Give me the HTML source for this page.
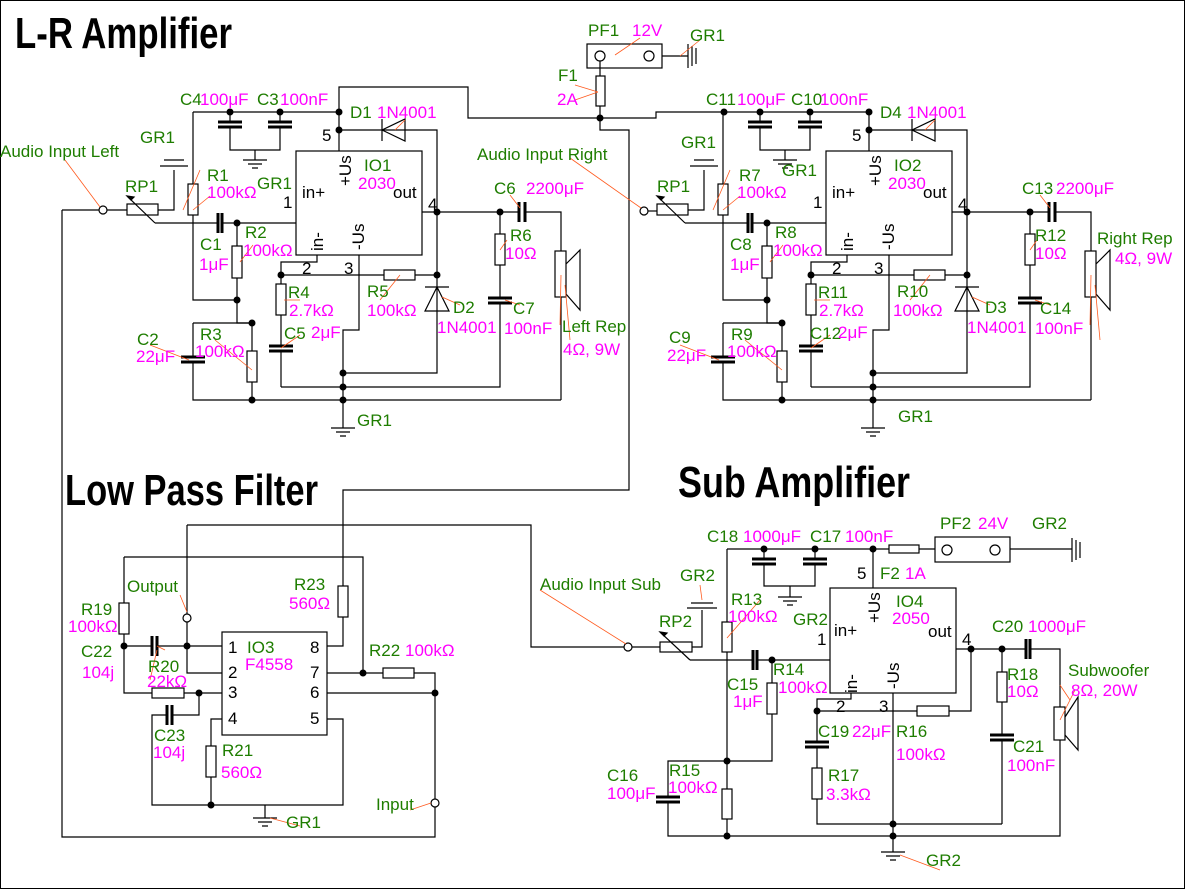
<!DOCTYPE html>
<html><head><meta charset="utf-8"><style>
html,body{margin:0;padding:0;background:#fff}
svg{display:block}
text{font-family:"Liberation Sans",sans-serif;font-size:17px}
.g{fill:#1e7d00}.m{fill:#ff00ff}.k{fill:#000}
.t{font-weight:bold;font-size:44px;fill:#000}
</style></head><body>
<svg width="1185" height="889" viewBox="0 0 1185 889" xmlns="http://www.w3.org/2000/svg">
<rect x="0.5" y="0.5" width="1184" height="888" fill="#fff" stroke="#000"/>
<defs>
<g id="amp" fill="none" stroke="#000" stroke-width="1.2">
 <path d="M158,210H174V170M164,160h20M160,166h28"/>
 <rect x="127" y="204" width="31" height="11"/>
 <path d="M155,223H218M222,223H296"/>
 <path d="M127,196L155,223"/><path d="M127,196l7,1l-3,3z" fill="#000"/>
 <path d="M218,213v20M222,213v20" stroke-width="3"/>
 <path d="M193,112V184M193,215V300H237"/><rect x="188" y="184" width="10" height="31"/>
 <path d="M237,223V246M237,278V323H252"/><rect x="232" y="246" width="10" height="32"/>
 <path d="M193,323H252M193,323V357M193,362V400H561"/>
 <path d="M181,357h24M181,362h24" stroke-width="3"/>
 <path d="M252,323V351M252,382V400"/><rect x="247" y="351" width="10" height="31"/>
 <path d="M193,112H339M230,112V122M230,127V150H280V127M280,112V122M255,150V160"/>
 <path d="M218,122h24M218,127h24M268,122h24M268,127h24" stroke-width="3"/>
 <path d="M243,160h24M248,164h14M252,168h6"/>
 <path d="M339,112V151M339,130H437V212"/>
 <path d="M382,130L405,119V141Z M382,119V141"/>
 <rect x="296" y="151" width="126" height="104"/>
 <path d="M422,212H519M525,212H561V251M561,297V400"/>
 <path d="M519,202v20M525,202v20" stroke-width="3"/>
 <rect x="555" y="251" width="11" height="46"/><path d="M566,264L580,250V310L566,294"/>
 <path d="M500,212V234M500,265V298M500,303V387H281"/><rect x="495" y="234" width="10" height="31"/>
 <path d="M488,298h24M488,303h24" stroke-width="3"/>
 <path d="M281,275V284M281,315V346M281,351V387"/><rect x="276" y="284" width="10" height="31"/>
 <path d="M269,346h24M269,351h24" stroke-width="3"/>
 <path d="M317,255V262H281V275M281,275H384M415,275H437"/><rect x="384" y="270" width="31" height="10"/>
 <path d="M437,212V373H343M437,287L425,311H449Z M425,287H449"/>
 <path d="M359,255V330H343V428M331,428h24M336,432h14M340,436h6"/>
 <g fill="#000" stroke="none">
  <circle cx="339" cy="112" r="3.5"/><circle cx="230" cy="112" r="3.5"/><circle cx="280" cy="112" r="3.5"/>
  <circle cx="339" cy="130" r="3.5"/><circle cx="437" cy="212" r="3.5"/><circle cx="500" cy="212" r="3.5"/>
  <circle cx="237" cy="223" r="3.5"/><circle cx="237" cy="300" r="3.5"/><circle cx="252" cy="323" r="3.5"/>
  <circle cx="281" cy="275" r="3.5"/><circle cx="437" cy="275" r="3.5"/><circle cx="343" cy="373" r="3.5"/>
  <circle cx="343" cy="387" r="3.5"/><circle cx="343" cy="400" r="3.5"/><circle cx="252" cy="400" r="3.5"/>
 </g>
 <g stroke="#ff5a1e" stroke-width="0.8">
  <path d="M200,170L183,210M210,196L193,210M253,245L240,262M300,300L284,300M380,300L400,275M460,305L442,297M150,345L189,360M215,340L252,370M300,335L281,348M507,240L500,250M520,305L505,300M560,325L561,275M570,340L565,285M405,120L395,130M510,195L520,208"/>
 </g>
</g>
</defs>
<use href="#amp"/>
<use href="#amp" transform="translate(530,0)"/>
<g fill="none" stroke="#000" stroke-width="1.2">
 <path d="M62,210H99M107,210H127"/><circle cx="103" cy="210" r="4"/>
 <path d="M648,211H657"/><circle cx="644" cy="211" r="4"/>
 <path d="M339,112V87H468V118H656V112H724"/>
 <rect x="587" y="44" width="75" height="24"/><circle cx="600" cy="56" r="5"/><circle cx="649" cy="56" r="5"/>
 <path d="M662,56H688M600,61V76"/>
 <path d="M688,44v24M692,46v20M696,48v16"/>
 <rect x="596" y="76" width="9" height="30"/>
 <path d="M600,106V130H629V490H343V586"/>
 <path d="M187,525H531V647H624"/><circle cx="628" cy="647" r="4"/>
 <path d="M124,557H363V673"/>
 <path d="M124,557V603M124,634V693H152"/><rect x="119" y="603" width="10" height="31"/>
 <path d="M124,646H152M157,646H222"/>
 <path d="M152,636v20M157,636v20M167,705v20M172,705v20" stroke-width="3"/>
 <path d="M187,525V614M187,622V673H222"/><circle cx="187" cy="618" r="4"/>
 <rect x="152" y="688" width="32" height="10"/><path d="M184,693H222"/>
 <path d="M199,693V715H172M167,715H152V805H343V719H327"/>
 <path d="M222,719H211V746M211,777V805"/><rect x="206" y="746" width="10" height="31"/>
 <path d="M265,805V818M253,818h24M258,822h14M262,826h6"/>
 <rect x="222" y="632" width="105" height="103"/>
 <path d="M327,646H343V617"/><rect x="338" y="586" width="10" height="31"/>
 <path d="M327,673H383M414,673H435V799M435,807V837H62V210M327,693H435"/><rect x="383" y="668" width="31" height="10"/>
 <circle cx="435" cy="803" r="4"/>
 <path d="M632,647H660M692,647H702V610M691,603h22M687,608h30"/><rect x="660" y="642" width="32" height="10"/>
 <path d="M660,632L690,660"/><path d="M660,632l7,1l-3,3z" fill="#000"/>
 <path d="M690,660H753M757,660H830"/>
 <path d="M753,650v20M757,650v20" stroke-width="3"/>
 <path d="M727,549H889M919,549H935"/><rect x="889" y="545" width="30" height="8"/>
 <rect x="935" y="537" width="75" height="25"/><circle cx="947" cy="550" r="5"/><circle cx="995" cy="550" r="5"/>
 <path d="M1010,549H1072M1072,538v24M1076,540v20M1080,542v16"/>
 <path d="M764,549V559M764,564V586H815V564M815,549V559M790,586V597M778,597h24M783,601h14M787,605h6"/>
 <path d="M752,559h24M752,564h24M803,559h24M803,564h24" stroke-width="3"/>
 <path d="M873,549V588"/><rect x="830" y="588" width="126" height="105"/>
 <path d="M727,549V622M727,652V789M727,819V836"/><rect x="722" y="622" width="10" height="30"/>
 <rect x="722" y="789" width="10" height="30"/>
 <path d="M772,660V683M772,714V761H668V797M668,802V836H1060V740"/><rect x="767" y="683" width="10" height="31"/>
 <path d="M656,797h24M656,802h24M805,742h24M805,747h24M990,735h24M990,740h24" stroke-width="3"/>
 <path d="M851,693V699H817V711H917M949,711H971V649"/><rect x="917" y="706" width="32" height="10"/>
 <path d="M817,711V742M817,747V768M817,799V824H1002"/><rect x="812" y="768" width="10" height="31"/>
 <path d="M956,649H1026M1030,649H1060V707"/>
 <path d="M1026,639v20M1030,639v20" stroke-width="3"/>
 <rect x="1054" y="707" width="11" height="33"/><path d="M1065,717L1078,697V750L1065,735"/>
 <path d="M1002,649V672M1002,702V735M1002,740V824"/><rect x="997" y="672" width="10" height="30"/>
 <path d="M893,693V852M881,852h24M886,856h14M890,860h6"/>
</g>
<g fill="#000">
 <circle cx="600" cy="118" r="3.5"/><circle cx="724" cy="112" r="3.5"/>
 <circle cx="124" cy="646" r="3.5"/><circle cx="187" cy="646" r="3.5"/><circle cx="199" cy="693" r="3.5"/>
 <circle cx="363" cy="673" r="3.5"/><circle cx="435" cy="693" r="3.5"/><circle cx="211" cy="805" r="3.5"/>
 <circle cx="764" cy="549" r="3.5"/><circle cx="815" cy="549" r="3.5"/><circle cx="873" cy="549" r="3.5"/>
 <circle cx="772" cy="660" r="3.5"/><circle cx="727" cy="761" r="3.5"/><circle cx="727" cy="836" r="3.5"/>
 <circle cx="893" cy="836" r="3.5"/><circle cx="893" cy="824" r="3.5"/><circle cx="817" cy="711" r="3.5"/>
 <circle cx="971" cy="649" r="3.5"/><circle cx="1002" cy="649" r="3.5"/>
</g>
<g stroke="#ff5a1e" stroke-width="0.8" fill="none">
 <path d="M65,160L100,207M570,158L641,208M575,85L598,92M575,100L598,92M640,38L615,55M700,40L680,56M180,595L187,612M410,810L431,803M300,826L270,818M165,650L157,646M150,680L157,650M540,590L626,644M700,585L702,600M760,600L727,638M940,870L900,855M1060,685L1070,700M1075,690L1060,720"/>
</g>
<text class="t" x="15" y="48" textLength="217" lengthAdjust="spacingAndGlyphs">L-R Amplifier</text>
<text class="t" x="65" y="505" textLength="253" lengthAdjust="spacingAndGlyphs">Low Pass Filter</text>
<text class="t" x="678" y="497" textLength="232" lengthAdjust="spacingAndGlyphs">Sub Amplifier</text>
<text class="g" x="0" y="157">Audio Input Left</text>
<text class="g" x="140" y="143">GR1</text><text class="g" x="125" y="192">RP1</text>
<text class="g" x="207" y="181">R1</text><text class="m" x="207" y="198">100kΩ</text>
<text class="g" x="180" y="105">C4</text><text class="m" x="200" y="105">100μF</text>
<text class="g" x="257" y="105">C3</text><text class="m" x="280" y="105">100nF</text>
<text class="g" x="350" y="118">D1</text><text class="m" x="377" y="118">1N4001</text>
<text class="g" x="257" y="189">GR1</text><text class="k" x="322" y="141">5</text>
<text class="g" x="364" y="171">IO1</text><text class="m" x="358" y="189">2030</text>
<text class="k" x="302" y="198">in+</text><text class="k" x="393" y="198">out</text>
<text class="k" x="283" y="208">1</text><text class="k" x="428" y="210">4</text>
<text class="k" x="0" y="0" transform="translate(351,186) rotate(-90)">+Us</text>
<text class="k" x="0" y="0" transform="translate(323,251) rotate(-90)">in-</text>
<text class="k" x="0" y="0" transform="translate(364,250) rotate(-90)">-Us</text>
<text class="g" x="200" y="250">C1</text><text class="m" x="199" y="270">1μF</text>
<text class="g" x="245" y="238">R2</text><text class="m" x="243" y="256">100kΩ</text>
<text class="k" x="302" y="274">2</text><text class="k" x="344" y="274">3</text>
<text class="g" x="288" y="298">R4</text><text class="m" x="289" y="316">2.7kΩ</text>
<text class="g" x="367" y="297">R5</text><text class="m" x="367" y="316">100kΩ</text>
<text class="g" x="453" y="313">D2</text><text class="m" x="437" y="333">1N4001</text>
<text class="g" x="137" y="345">C2</text><text class="m" x="136" y="362">22μF</text>
<text class="g" x="200" y="340">R3</text><text class="m" x="195" y="357">100kΩ</text>
<text class="g" x="284" y="339">C5</text><text class="m" x="311" y="338">2μF</text>
<text class="g" x="357" y="426">GR1</text>
<text class="g" x="494" y="194">C6</text><text class="m" x="526" y="194">2200μF</text>
<text class="g" x="510" y="241">R6</text><text class="m" x="505" y="259">10Ω</text>
<text class="g" x="513" y="314">C7</text><text class="m" x="504" y="334">100nF</text>
<text class="g" x="562" y="332">Left Rep</text><text class="m" x="563" y="355">4Ω, 9W</text>
<text class="g" x="588" y="36">PF1</text><text class="m" x="632" y="36">12V</text>
<text class="g" x="690" y="41">GR1</text>
<text class="g" x="558" y="81">F1</text><text class="m" x="557" y="105">2A</text>
<text class="g" x="477" y="160">Audio Input Right</text>
<text class="g" x="681" y="148">GR1</text><text class="g" x="657" y="192">RP1</text>
<text class="g" x="739" y="181">R7</text><text class="m" x="737" y="198">100kΩ</text>
<text class="g" x="706" y="105">C11</text><text class="m" x="737" y="105">100μF</text>
<text class="g" x="791" y="105">C10</text><text class="m" x="820" y="105">100nF</text>
<text class="g" x="880" y="118">D4</text><text class="m" x="907" y="118">1N4001</text>
<text class="g" x="782" y="176">GR1</text><text class="k" x="852" y="141">5</text>
<text class="g" x="894" y="171">IO2</text><text class="m" x="888" y="189">2030</text>
<text class="k" x="832" y="198">in+</text><text class="k" x="923" y="198">out</text>
<text class="k" x="813" y="208">1</text><text class="k" x="958" y="210">4</text>
<text class="k" x="0" y="0" transform="translate(881,186) rotate(-90)">+Us</text>
<text class="k" x="0" y="0" transform="translate(853,251) rotate(-90)">in-</text>
<text class="k" x="0" y="0" transform="translate(894,250) rotate(-90)">-Us</text>
<text class="g" x="730" y="250">C8</text><text class="m" x="730" y="270">1μF</text>
<text class="g" x="775" y="238">R8</text><text class="m" x="773" y="256">100kΩ</text>
<text class="k" x="832" y="274">2</text><text class="k" x="874" y="274">3</text>
<text class="g" x="818" y="298">R11</text><text class="m" x="819" y="316">2.7kΩ</text>
<text class="g" x="897" y="297">R10</text><text class="m" x="893" y="316">100kΩ</text>
<text class="g" x="985" y="313">D3</text><text class="m" x="967" y="333">1N4001</text>
<text class="g" x="669" y="343">C9</text><text class="m" x="667" y="361">22μF</text>
<text class="g" x="731" y="340">R9</text><text class="m" x="727" y="357">100kΩ</text>
<text class="g" x="810" y="339">C12</text><text class="m" x="838" y="338">2μF</text>
<text class="g" x="898" y="422">GR1</text>
<text class="g" x="1022" y="194">C13</text><text class="m" x="1056" y="194">2200μF</text>
<text class="g" x="1035" y="241">R12</text><text class="m" x="1035" y="259">10Ω</text>
<text class="g" x="1040" y="314">C14</text><text class="m" x="1035" y="334">100nF</text>
<text class="g" x="1097" y="244">Right Rep</text><text class="m" x="1115" y="264">4Ω, 9W</text>
<text class="g" x="127" y="592">Output</text>
<text class="g" x="81" y="615">R19</text><text class="m" x="68" y="632">100kΩ</text>
<text class="g" x="81" y="657">C22</text><text class="m" x="82" y="678">104j</text>
<text class="g" x="148" y="672">R20</text><text class="m" x="147" y="687">22kΩ</text>
<text class="g" x="154" y="741">C23</text><text class="m" x="153" y="758">104j</text>
<text class="g" x="247" y="653">IO3</text><text class="m" x="245" y="670">F4558</text>
<text class="k" x="228" y="653" font-size="15">1</text><text class="k" x="228" y="678" font-size="15">2</text>
<text class="k" x="228" y="698" font-size="15">3</text><text class="k" x="228" y="724" font-size="15">4</text>
<text class="k" x="310" y="653" font-size="15">8</text><text class="k" x="310" y="678" font-size="15">7</text>
<text class="k" x="310" y="698" font-size="15">6</text><text class="k" x="310" y="724" font-size="15">5</text>
<text class="g" x="294" y="590">R23</text><text class="m" x="289" y="609">560Ω</text>
<text class="g" x="369" y="656">R22</text><text class="m" x="405" y="656">100kΩ</text>
<text class="g" x="222" y="756">R21</text><text class="m" x="221" y="778">560Ω</text>
<text class="g" x="376" y="810">Input</text><text class="g" x="286" y="828">GR1</text>
<text class="g" x="540" y="590">Audio Input Sub</text>
<text class="g" x="680" y="581">GR2</text><text class="g" x="659" y="627">RP2</text>
<text class="g" x="707" y="542">C18</text><text class="m" x="743" y="542">1000μF</text>
<text class="g" x="810" y="542">C17</text><text class="m" x="845" y="542">100nF</text>
<text class="g" x="940" y="529">PF2</text><text class="m" x="978" y="529">24V</text>
<text class="g" x="1032" y="529">GR2</text>
<text class="k" x="857" y="579">5</text>
<text class="g" x="880" y="579">F2</text><text class="m" x="905" y="579">1A</text>
<text class="g" x="731" y="605">R13</text><text class="m" x="728" y="622">100kΩ</text>
<text class="g" x="793" y="625">GR2</text>
<text class="g" x="896" y="607">IO4</text><text class="m" x="892" y="624">2050</text>
<text class="k" x="834" y="636">in+</text><text class="k" x="928" y="637">out</text>
<text class="k" x="817" y="645">1</text><text class="k" x="962" y="645">4</text>
<text class="k" x="0" y="0" transform="translate(880,623) rotate(-90)">+Us</text>
<text class="k" x="0" y="0" transform="translate(857,693) rotate(-90)">in-</text>
<text class="k" x="0" y="0" transform="translate(899,689) rotate(-90)">-Us</text>
<text class="g" x="727" y="690">C15</text><text class="m" x="733" y="707">1μF</text>
<text class="g" x="773" y="675">R14</text><text class="m" x="778" y="693">100kΩ</text>
<text class="k" x="836" y="712">2</text><text class="k" x="879" y="712">3</text>
<text class="g" x="818" y="737">C19</text><text class="m" x="852" y="737">22μF</text>
<text class="g" x="896" y="737">R16</text><text class="m" x="896" y="760">100kΩ</text>
<text class="g" x="828" y="781">R17</text><text class="m" x="826" y="800">3.3kΩ</text>
<text class="g" x="992" y="632">C20</text><text class="m" x="1028" y="632">1000μF</text>
<text class="g" x="1007" y="680">R18</text><text class="m" x="1007" y="697">10Ω</text>
<text class="g" x="1013" y="752">C21</text><text class="m" x="1007" y="771">100nF</text>
<text class="g" x="1068" y="676">Subwoofer</text><text class="m" x="1071" y="696">8Ω, 20W</text>
<text class="g" x="607" y="781">C16</text><text class="m" x="607" y="799">100μF</text>
<text class="g" x="669" y="776">R15</text><text class="m" x="668" y="793">100kΩ</text>
<text class="g" x="926" y="866">GR2</text>
</svg>
</body></html>
